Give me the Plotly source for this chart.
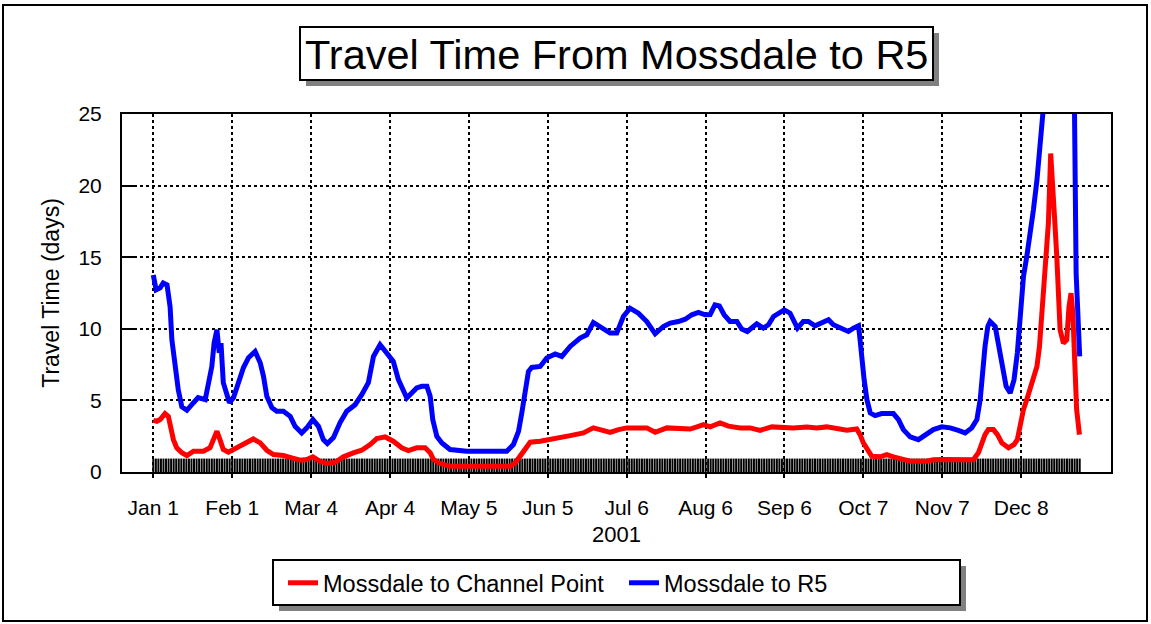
import plotly.graph_objects as go

# ---------------- data (day offsets from Jan 1, 2001; travel time in days) -------------
tick_days = [0, 31, 62, 93, 124, 155, 186, 217, 248, 279, 310, 341]
tick_labels = ["Jan 1", "Feb 1", "Mar 4", "Apr 4", "May 5", "Jun 5",
               "Jul 6", "Aug 6", "Sep 6", "Oct 7", "Nov 7", "Dec 8"]

r5_days = [0, 1.1, 2.7, 3.9, 5.4, 6.6, 7.3, 8.6, 9.8, 11.2,
           13.2, 15.8, 17.6, 20.4, 21.5, 23, 23.9, 25, 25.9, 26.6,
           27.5, 28.9, 29.9, 31.5, 33.4, 35.4, 37.4, 40, 42, 43.3,
           44.6, 46.6, 48.5, 51.1, 53.8, 55.7, 58.3, 60.3, 62.7, 64.9,
           66.8, 68.4, 70.8, 73.4, 76, 79.3, 81.9, 84.5, 86.5, 89.1,
           91.7, 94.3, 96.3, 99.6, 103.5, 105.5, 107.5, 108.8, 109.8, 111.4,
           113.4, 116.6, 123.2, 131, 138.9, 141.5, 143.5, 144.8, 146.1, 147.4,
           148.7, 152, 154.6, 157.9, 160.5, 163.8, 167.7, 170.3, 172.9, 175.5,
           179.5, 182.1, 184.7, 187.3, 190.6, 193.9, 197.2, 200.4, 203.1, 206.3,
           209, 211.6, 214.2, 216.8, 218.8, 220.7, 222.4, 224.3, 226.6, 229.3,
           231.2, 233.4, 235.2, 237.1, 239.7, 241.7, 243.7, 246.3, 247.9, 250.2,
           251.5, 253.1, 255.4, 257.4, 260, 263.3, 265.3, 267.2, 270.5, 273.1,
           275.1, 277.1, 277.7, 278.4, 279.3, 280.4, 281.7, 283.6, 286.2, 290.8,
           292.8, 294.7, 297.4, 300.6, 303.3, 306.5,
           309.8, 313.1, 316.3, 319, 321.6, 323.6, 324.9, 325.8, 326.8, 327.9,
           328.8, 330.8, 332.1, 333.4, 335.1, 336.7, 338.2, 339.5, 340.6, 341.9,
           343.2, 344.5, 345.8, 347.2, 348, 348.7, 351, 354, 357, 360,
           361.8, 362.6, 363.6, 364]
r5_vals = [13.76, 12.72, 12.86, 13.2, 13.07, 11.53, 9.23, 7.35, 5.75, 4.56,
           4.31, 4.84, 5.19, 5.05, 5.98, 7.37, 9.02, 9.93, 8.33, 9.0,
           6.24, 5.28, 4.84, 5.19, 6.24, 7.28, 7.98, 8.42, 7.63, 6.68,
           5.28, 4.49, 4.24, 4.24, 3.89, 3.19, 2.73, 3.08, 3.66, 3.19,
           2.26, 1.99, 2.4, 3.45, 4.24, 4.7, 5.4, 6.24, 8.07, 8.89,
           8.31, 7.72, 6.45, 5.17, 5.87, 5.98, 5.98, 5.28, 3.66, 2.49,
           2.03, 1.57, 1.45, 1.45, 1.45, 1.92, 2.84, 4.13, 5.75, 7.02,
           7.3, 7.37, 7.96, 8.24, 8.07, 8.77, 9.35, 9.58, 10.44, 10.12,
           9.7, 9.7, 10.86, 11.44, 11.09, 10.51, 9.65, 10.16, 10.4, 10.51,
           10.67, 10.98, 11.14, 10.98, 11.0, 11.67, 11.6, 10.98, 10.51, 10.51,
           9.98, 9.81, 10.05, 10.35, 10.05, 10.28, 10.86, 11.14, 11.32, 11.09,
           10.63, 10.05, 10.51, 10.51, 10.21, 10.51, 10.63, 10.28, 9.98, 9.81,
           10.05, 10.21, 9.23, 7.84, 6.45, 5.05, 4.13, 3.94, 4.08, 4.08,
           3.66, 2.96, 2.45, 2.26, 2.61, 2.96,
           3.15, 3.08, 2.91, 2.73, 3.08, 3.66, 5.05, 6.91, 8.77, 10.16,
           10.51, 10.16, 8.77, 7.37, 5.98, 5.52, 6.45, 8.31, 10.63, 13.64,
           15.04, 16.43, 18.29, 20.38, 22.24, 24.56, 30, 36, 40, 36,
           28, 13.88, 9.7, 8.07]

cp_days = [0, 1.4, 2.7, 4.6, 5.9, 6.9, 7.9, 9.2, 11.2, 13.2,
           15.8, 19.7, 22.3, 23.9, 25, 26.2, 27.5, 29.5, 31.5, 34.1,
           36.7, 39.3, 42, 44.6, 47.2, 51.1, 54.4, 57.7, 60.3, 62.7,
           65.5, 68.2, 71.4, 74.7, 78.6, 81.9, 85.2, 87.8, 91.1, 94.3,
           97.6, 100.2, 103.5,
           106.8, 108.8, 110.1, 112.7, 116.6, 129.7, 140.2, 142.2, 144.1, 146.1,
           148.1, 152, 155.9, 159.8, 163.8, 169, 172.9, 175.5, 179.5, 182.8,
           186.1, 193.9, 197.2, 201.8,
           207, 210.9, 213.6, 216.2, 218.8, 222.7, 226, 230.6, 234.5, 238.4,
           243, 247.6, 251.5, 256.8, 260.7, 264.6, 268.6, 272.5, 276.4, 277.7,
           279, 280.4, 282.3, 285.6, 288.2, 290.8, 293.4, 297.4, 303.9,
           306.5, 310.5, 314.4, 322.2, 324.2, 325.5, 326.8, 328.1, 330.1, 331.7,
           333.4, 336, 338.2, 339.5, 340.6, 341.9, 343.2, 344.5, 345.8, 347.2,
           348.2, 349.1, 350, 350.8, 351.7, 352.6, 353.4, 354.1, 355, 355.7,
           356.3, 357.6, 358.9, 359.8, 360.6, 361.3, 362.1, 362.8, 363.9]
cp_vals = [3.61, 3.54, 3.66, 4.08, 3.89, 2.96, 2.26, 1.69, 1.34, 1.15,
           1.45, 1.45, 1.69, 2.38, 2.84, 2.26, 1.57, 1.38, 1.57, 1.85,
           2.15, 2.31, 2.03, 1.52, 1.22, 1.15, 0.99, 0.82, 0.87, 1.06,
           0.75, 0.59, 0.68, 1.06, 1.34, 1.52, 1.92, 2.33, 2.45, 2.15,
           1.69, 1.5, 1.69,
           1.69, 1.34, 0.87, 0.59, 0.4, 0.4, 0.4, 0.64, 1.1, 1.69,
           2.08, 2.15, 2.26, 2.38, 2.54, 2.73, 3.08, 2.96, 2.77, 2.96,
           3.08, 3.08, 2.77, 3.08,
           3.08, 3.0, 3.15, 3.31, 3.15, 3.43, 3.2, 3.08, 3.08, 2.91,
           3.15, 3.08, 3.08, 3.15, 3.08, 3.15, 3.0, 2.91, 3.0, 2.61,
           2.03, 1.57, 1.1, 1.06, 1.22, 1.06, 0.92, 0.75, 0.75,
           0.85, 0.88, 0.85, 0.85, 1.34, 2.03, 2.61, 2.96, 2.96, 2.61,
           2.03, 1.69, 1.92, 2.26, 3.31, 4.36, 5.05, 5.75, 6.45, 7.37,
           8.77, 10.86, 13.18, 15.28, 17.37, 22.24, 20.38, 17.83, 15.04, 11.55,
           9.93, 9.0, 9.23, 11.55, 12.49, 11.09, 7.37, 4.36, 2.61]

sample_days = list(range(365))          # daily record markers along the base
sample_level = [0.4] * len(sample_days)

# ---------------- layout geometry (pixels) ----------------
W, H = 1151, 624
L, R, T, B = 122, 1111, 114, 472
FONT = "Arial, Liberation Sans, sans-serif"


def fx(px):
    return (px - L) / (R - L)


def fy(py):
    return (B - py) / (B - T)


fig = go.Figure()

fig.add_trace(go.Scatter(
    x=sample_days, y=sample_level, mode="markers", showlegend=False,
    hoverinfo="skip",
    marker=dict(symbol="line-ns", size=11, line=dict(color="black", width=2)),
))
fig.add_trace(go.Scatter(
    x=cp_days, y=cp_vals, mode="lines", name="Mossdale to Channel Point",
    line=dict(color="#FF0000", width=5),
))
fig.add_trace(go.Scatter(
    x=r5_days, y=r5_vals, mode="lines", name="Mossdale to R5",
    line=dict(color="#0000FF", width=5),
))

shapes = [
    # outer frame
    dict(type="rect", xref="paper", yref="paper", x0=fx(3), x1=fx(1147),
         y0=fy(621), y1=fy(5), line=dict(color="black", width=2), layer="below"),
    # title shadow + box
    dict(type="rect", xref="paper", yref="paper", x0=fx(306), x1=fx(939),
         y0=fy(86), y1=fy(33), fillcolor="#808080", line=dict(width=0)),
    dict(type="rect", xref="paper", yref="paper", x0=fx(300), x1=fx(933),
         y0=fy(80), y1=fy(27), fillcolor="white", line=dict(color="black", width=2)),
    # legend shadow + box
    dict(type="rect", xref="paper", yref="paper", x0=fx(279), x1=fx(966),
         y0=fy(611), y1=fy(566), fillcolor="#808080", line=dict(width=0)),
    dict(type="rect", xref="paper", yref="paper", x0=fx(273), x1=fx(960),
         y0=fy(605), y1=fy(560), fillcolor="white", line=dict(color="black", width=2)),
]

annotations = [
    dict(text="Travel Time From Mossdale to R5", xref="paper", yref="paper",
         x=fx(616.5), y=fy(54), xanchor="center", yanchor="middle",
         showarrow=False, font=dict(family=FONT, size=41.5, color="black")),
]

fig.update_layout(
    width=W, height=H,
    margin=dict(l=L, r=W - R, t=T, b=H - B, pad=0),
    paper_bgcolor="white", plot_bgcolor="white",
    font=dict(family=FONT, size=21, color="black"),
    shapes=shapes, annotations=annotations,
    showlegend=True,
    legend=dict(orientation="h", x=fx(283), y=fy(583), xanchor="left", yanchor="middle",
                bgcolor="rgba(0,0,0,0)", borderwidth=0,
                font=dict(family=FONT, size=23.5, color="black"),
                entrywidth=296, entrywidthmode="pixels", itemwidth=30),
    xaxis=dict(range=[-12.3, 376.3], tickmode="array", tickvals=tick_days,
               ticktext=tick_labels, showgrid=True, gridcolor="black", gridwidth=2,
               griddash="dot", zeroline=False, showline=True, linecolor="black",
               linewidth=2, mirror=True, ticks="outside", ticklen=4, tickwidth=2,
               tickcolor="black", ticklabelstandoff=12,
               tickfont=dict(family=FONT, size=21),
               title=dict(text="2001", standoff=8, font=dict(family=FONT, size=22))),
    yaxis=dict(range=[0, 25], tickmode="array", tickvals=[0, 5, 10, 15, 20, 25],
               showgrid=True, gridcolor="black", gridwidth=2, griddash="dot",
               zeroline=False, showline=True, linecolor="black", linewidth=2,
               mirror=True, ticks="inside", ticklen=12, tickwidth=2, tickcolor="black",
               ticklabelstandoff=14, tickfont=dict(family=FONT, size=21),
               title=dict(text="Travel Time (days)", standoff=12,
                          font=dict(family=FONT, size=23))),
)

fig.write_html("out.html", config={"displayModeBar": False},
               post_script="document.body.style.margin='0px';")
